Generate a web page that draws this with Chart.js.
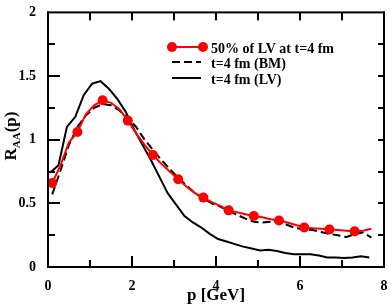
<!DOCTYPE html>
<html>
<head>
<meta charset="utf-8">
<script src="https://cdn.jsdelivr.net/npm/chart.js@4/dist/chart.umd.min.js"></script>
<style>
  html, body { margin: 0; padding: 0; background: #fff; }
  #wrap { width: 391px; height: 304px; }
</style>
</head>
<body>
<div id="wrap"><canvas id="chart" width="391" height="304"></canvas></div>
<script>
// 50% of LV at t=4 fm (red, markers on every third point)
const redP = [0.1, 0.3, 0.5, 0.7, 0.9, 1.1, 1.3, 1.5, 1.7, 1.9, 2.1, 2.3, 2.5, 2.7, 2.9, 3.1, 3.3, 3.5, 3.7, 3.9,
  4.1, 4.3, 4.5, 4.7, 4.9, 5.1, 5.3, 5.5, 5.7, 5.9, 6.1, 6.3, 6.5, 6.7, 6.9, 7.1, 7.3, 7.5, 7.7];
const redR = [0.66, 0.80, 0.98, 1.06, 1.20, 1.27, 1.31, 1.29, 1.24, 1.15, 1.05, 0.96, 0.88, 0.81, 0.75, 0.69, 0.63, 0.58, 0.545, 0.51,
  0.48, 0.445, 0.43, 0.415, 0.40, 0.39, 0.375, 0.365, 0.35, 0.33, 0.31, 0.305, 0.30, 0.295, 0.29, 0.285, 0.28, 0.285, 0.30];

// t=4 fm (BM), dashed
const bmP = [0.1, 0.3, 0.5, 0.7, 0.9, 1.1, 1.3, 1.5, 1.7, 1.9, 2.1, 2.3, 2.5, 2.7, 2.9, 3.1, 3.3, 3.5, 3.7, 3.9,
  4.1, 4.3, 4.5, 4.7, 4.9, 5.1, 5.3, 5.5, 5.7, 5.9, 6.1, 6.3, 6.5, 6.7, 6.9, 7.1, 7.3, 7.5, 7.7];
const bmR = [0.57, 0.76, 0.96, 1.10, 1.19, 1.25, 1.28, 1.27, 1.23, 1.17, 1.10, 1.00, 0.92, 0.84, 0.77, 0.70, 0.64, 0.58, 0.54, 0.50,
  0.475, 0.44, 0.41, 0.38, 0.355, 0.35, 0.355, 0.36, 0.33, 0.305, 0.295, 0.29, 0.275, 0.26, 0.25, 0.235, 0.26, 0.27, 0.23];

// t=4 fm (LV), solid
const lvP = [0.05, 0.25, 0.45, 0.65, 0.85, 1.05, 1.25, 1.45, 1.65, 1.85, 2.05, 2.25, 2.45, 2.65, 2.85, 3.05, 3.25, 3.45, 3.65, 3.85,
  4.05, 4.25, 4.45, 4.65, 4.85, 5.05, 5.25, 5.45, 5.65, 5.85, 6.05, 6.25, 6.45, 6.65, 6.85, 7.05, 7.25, 7.45, 7.65];
const lvR = [0.74, 0.80, 1.10, 1.18, 1.35, 1.44, 1.46, 1.40, 1.32, 1.22, 1.08, 0.96, 0.84, 0.71, 0.58, 0.49, 0.40, 0.35, 0.31, 0.26,
  0.22, 0.20, 0.18, 0.16, 0.145, 0.13, 0.135, 0.125, 0.11, 0.10, 0.10, 0.10, 0.09, 0.075, 0.075, 0.07, 0.075, 0.085, 0.075];

const seriesLabels = ['50% of LV at t=4 fm', 't=4 fm (BM)', 't=4 fm (LV)'];
const xTicks = [0, 2, 4, 6, 8];
const xMinorTicks = [1, 2, 3, 4, 5, 6, 7];
const yTicks = [0, 0.5, 1, 1.5, 2];
const yTickLabels = ['0', '0.5', '1', '1.5', '2'];
const yMinorTicks = [0.25, 0.5, 0.75, 1, 1.25, 1.5, 1.75];

const FONT = '"Liberation Serif", "Times New Roman", serif';
const toPts = (xs, ys) => xs.map((x, i) => ({ x, y: ys[i] }));

// frame, inward ticks on all four sides, legend and y title
const decorPlugin = {
  id: 'decor',
  afterDraw(chart) {
    const ctx = chart.ctx;
    const a = chart.chartArea;
    const sx = chart.scales.x, sy = chart.scales.y;
    ctx.save();
    ctx.setLineDash([]);
    ctx.fillStyle = '#000';

    // frame
    ctx.fillRect(a.left - 1, a.top - 1, a.right - a.left + 2, 2);
    ctx.fillRect(a.left - 1, a.bottom - 1, a.right - a.left + 2, 2);
    ctx.fillRect(a.left - 1, a.top - 1, 2, a.bottom - a.top + 2);
    ctx.fillRect(a.right - 1, a.top - 1, 2, a.bottom - a.top + 2);

    // ticks pointing inward
    xMinorTicks.forEach(v => {
      const px = Math.round(sx.getPixelForValue(v));
      const len = xTicks.includes(v) ? 11 : 7;
      ctx.fillRect(px - 1, a.bottom - len, 2, len);
      ctx.fillRect(px - 1, a.top, 2, 8);
    });
    yMinorTicks.forEach(v => {
      const py = Math.round(sy.getPixelForValue(v));
      const len = yTicks.includes(v) ? 12 : 7;
      ctx.fillRect(a.left, py - 1, len, 2);
      ctx.fillRect(a.right - 6, py - 1, 6, 2);
    });

    // legend
    const rows = [47, 62, 78];
    chart.data.datasets.forEach((ds, i) => {
      const yy = rows[i];
      ctx.strokeStyle = ds.borderColor;
      ctx.lineWidth = 2;
      ctx.setLineDash(ds.borderDash || []);
      ctx.beginPath();
      ctx.moveTo(172, yy);
      ctx.lineTo(i === 0 ? 203 : 201, yy);
      ctx.stroke();
      ctx.setLineDash([]);
      if (i === 0) {
        ctx.fillStyle = ds.pointBackgroundColor;
        [172, 203].forEach(cx => {
          ctx.beginPath(); ctx.arc(cx, yy, 5, 0, Math.PI * 2); ctx.fill();
        });
      }
      ctx.fillStyle = '#000';
      ctx.font = 'bold 14px ' + FONT;
      ctx.textAlign = 'left';
      ctx.textBaseline = 'alphabetic';
      ctx.fillText(ds.label, 211, yy + 6);
    });

    // y axis title R_AA(p)
    ctx.translate(16, 136);
    ctx.rotate(-Math.PI / 2);
    ctx.fillStyle = '#000';
    ctx.textBaseline = 'alphabetic';
    ctx.textAlign = 'left';
    const fBig = 'bold 17px ' + FONT, fSmall = 'bold 11px ' + FONT;
    ctx.font = fBig; const wR = ctx.measureText('R').width, wP = ctx.measureText('(p)').width;
    ctx.font = fSmall; const wA = ctx.measureText('AA').width;
    let tx = -(wR + wA + wP) / 2;
    ctx.font = fBig; ctx.fillText('R', tx, 0); tx += wR;
    ctx.font = fSmall; ctx.fillText('AA', tx, 4); tx += wA;
    ctx.font = fBig; ctx.fillText('(p)', tx, 0);
    ctx.restore();
  }
};

new Chart(document.getElementById('chart'), {
  type: 'line',
  data: {
    datasets: [
      {
        label: seriesLabels[0],
        data: toPts(redP, redR),
        borderColor: '#ff0000',
        backgroundColor: '#ff0000',
        pointBackgroundColor: '#ff0000',
        pointBorderWidth: 0,
        pointRadius: redP.map((_, i) => (i % 3 === 0 ? 5 : 0)),
        borderWidth: 2,
        tension: 0
      },
      {
        label: seriesLabels[1],
        data: toPts(bmP, bmR),
        borderColor: '#000',
        borderDash: [8, 4],
        pointRadius: 0,
        borderWidth: 2,
        tension: 0
      },
      {
        label: seriesLabels[2],
        data: toPts(lvP, lvR),
        borderColor: '#000',
        pointRadius: 0,
        borderWidth: 2,
        tension: 0
      }
    ]
  },
  options: {
    responsive: false,
    animation: false,
    layout: { padding: { top: 6, right: 7, left: 0, bottom: 0 } },
    plugins: { legend: { display: false }, tooltip: { enabled: false } },
    scales: {
      x: {
        type: 'linear',
        min: 0, max: 8,
        afterBuildTicks: s => { s.ticks = xTicks.map(v => ({ value: v })); },
        afterFit: s => { s.height = 37; },
        grid: { display: false },
        border: { display: false },
        ticks: { color: '#000', font: { family: FONT, size: 14, weight: 'bold' }, padding: 3, maxRotation: 0 },
        title: {
          display: true, text: 'p [GeV]', color: '#000',
          font: { family: FONT, size: 17, weight: 'bold', lineHeight: 1 },
          padding: { top: 0, bottom: 0 }
        }
      },
      y: {
        min: 0, max: 2,
        afterBuildTicks: s => { s.ticks = yTicks.map(v => ({ value: v })); },
        afterFit: s => { s.width = 48; },
        grid: { display: false },
        border: { display: false },
        ticks: {
          color: '#000', font: { family: FONT, size: 14, weight: 'bold' }, padding: 4,
          callback: v => yTickLabels[yTicks.indexOf(v)]
        }
      }
    }
  },
  plugins: [decorPlugin]
});
</script>
</body>
</html>
